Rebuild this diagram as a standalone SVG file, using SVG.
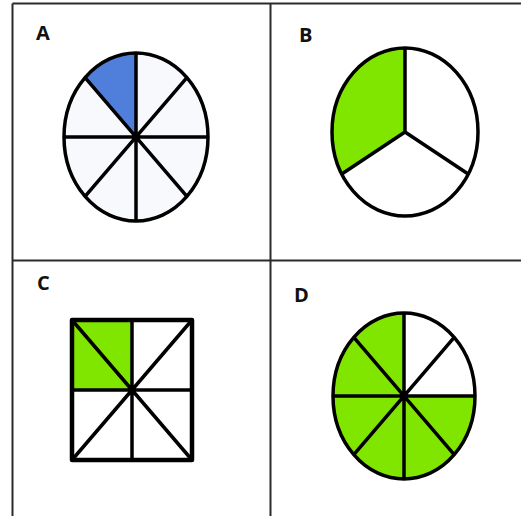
<svg xmlns="http://www.w3.org/2000/svg" width="521" height="516" viewBox="0 0 521 516">
<style>
.frame{stroke:#2b2b2b;stroke-width:2;fill:none}
.s{stroke:#000;stroke-width:3.5;fill:none;stroke-linejoin:round}
.lab{font-family:"Open Sans","Liberation Sans",sans-serif;font-weight:bold;font-size:20px;fill:#111}
.g{fill:#80e600}
.b{fill:#4f7fdb}
.w{fill:#ffffff}
</style>
<rect width="521" height="516" fill="#fff"/>
<g id="grid">
<line class="frame" x1="12.5" y1="3.5" x2="521" y2="3.5"/>
<line class="frame" x1="12.5" y1="3.5" x2="12.5" y2="516"/>
<line class="frame" x1="270.5" y1="3.5" x2="270.5" y2="516"/>
<line class="frame" x1="12.5" y1="260.5" x2="521" y2="260.5"/>
</g>
<g id="panelA">
<text class="lab" x="36" y="40">A</text>
<ellipse cx="136" cy="137" rx="72" ry="84" fill="#f8f9fc"/>
<path class="b" d="M136,137 L136,53 A72,84 0 0 0 85.1,77.6 Z"/>
<ellipse class="s" cx="136" cy="137" rx="72" ry="84"/>
<path class="s" d="M136,53 V221 M64,137 H208 M85.1,77.6 L186.9,196.4 M186.9,77.6 L85.1,196.4"/>
</g>
<g id="panelB">
<text class="lab" x="299" y="42">B</text>
<ellipse class="w" cx="405" cy="132" rx="73" ry="84"/>
<path class="g" d="M405,132 L405,48 A73,84 0 0 0 341.8,174 Z"/>
<ellipse class="s" cx="405" cy="132" rx="73" ry="84"/>
<path class="s" d="M405,48 V132 L341.8,174 M405,132 L468.2,174"/>
</g>
<g id="panelC">
<text class="lab" x="37" y="290">C</text>
<rect class="w" x="72" y="320" width="120" height="140"/>
<rect class="g" x="72" y="320" width="60" height="70"/>
<rect class="s" x="72" y="320" width="120" height="140" style="stroke-width:4.5"/>
<path class="s" d="M132,320 V460 M72,390 H192 M72,320 L192,460 M192,320 L72,460"/>
</g>
<g id="panelD">
<text class="lab" x="294" y="302">D</text>
<ellipse class="g" cx="404" cy="396" rx="71" ry="83"/>
<path class="w" d="M404,396 L404,313 A71,83 0 0 1 475,396 Z"/>
<ellipse class="s" cx="404" cy="396" rx="71" ry="83"/>
<path class="s" d="M404,313 V479 M333,396 H475 M353.8,337.3 L454.2,454.7 M454.2,337.3 L353.8,454.7"/>
</g>
</svg>
